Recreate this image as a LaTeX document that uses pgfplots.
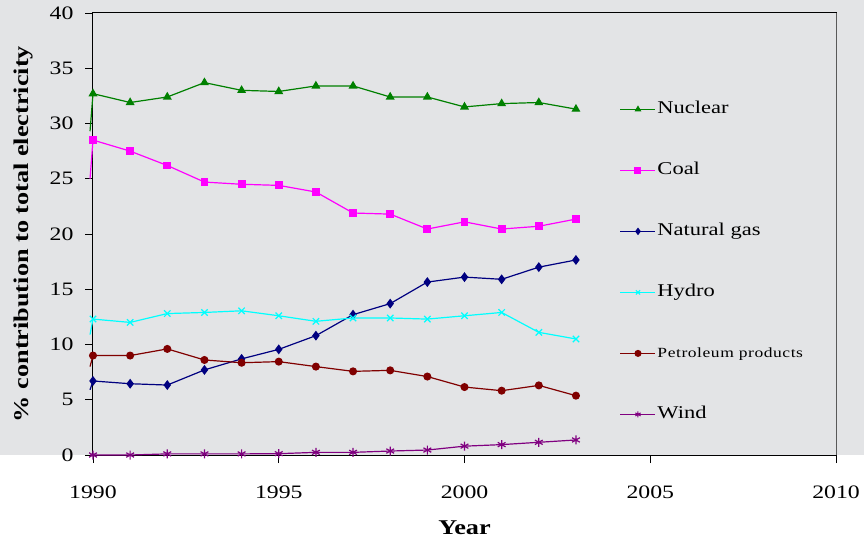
\documentclass[border=0pt]{standalone}
\usepackage{fontspec}
\setmainfont[FakeStretch=1.25]{Liberation Serif}
\usepackage{pgfplots}
\pgfplotsset{compat=1.18}
\usetikzlibrary{backgrounds,calc}

\definecolor{bg}{RGB}{227,228,230}
\definecolor{nuc}{RGB}{0,128,0}
\definecolor{coal}{RGB}{255,0,255}
\definecolor{gas}{RGB}{0,0,128}
\definecolor{hydro}{RGB}{0,255,255}
\definecolor{petro}{RGB}{128,0,0}
\definecolor{wind}{RGB}{128,0,128}

\begin{document}
\begin{tikzpicture}
\begin{axis}[%
name=ax,
width=743pt,
height=442pt,
scale only axis,
clip=false,
xmin=1990, xmax=2010,
ymin=0, ymax=40,
xtick={1990,1995,...,2010},
ytick={0,5,...,40},
tick pos=left,
tick align=outside,
major tick length=8pt,
tick style={black, line width=0.8pt},
axis line style={black, line width=1pt},
/pgf/number format/1000 sep={},
/pgf/number format/assume math mode=true,
ticklabel style={font=\fontsize{19}{22}\selectfont},
xticklabel style={yshift=-19pt},
yticklabel style={xshift=-8pt},
xlabel={Year},
ylabel={\% contribution to total electricity},
label style={font=\bfseries\fontsize{21}{24}\selectfont},
xlabel style={at={(rel axis cs:0.5,-0.165)}, anchor=center},
ylabel style={at={(rel axis cs:-0.0929,0.5)}, anchor=center},
every axis plot/.append style={line width=1.2pt, mark indices={2,...,15}},
legend style={draw=none, fill=none, at={(0.709,0.805)}, anchor=north west,
  inner sep=0pt, row sep=41pt,
  nodes={inner sep=1.5pt, text height=13pt, text depth=4pt, font=\fontsize{18}{20}\selectfont}},
legend cell align=left,
legend image code/.code={\draw[mark indices={2}] plot coordinates {(0pt,0pt) (17.5pt,0pt) (35pt,0pt)};},
every legend image post/.style={mark size=3pt, line width=1pt},
]
\addplot[nuc, mark=triangle*, mark size=4pt] coordinates {
(1989.92,29.3) (1990,32.7) (1991,31.9) (1992,32.4) (1993,33.7) (1994,33.0) (1995,32.9)
(1996,33.4) (1997,33.4) (1998,32.4) (1999,32.4) (2000,31.5) (2001,31.8) (2002,31.9) (2003,31.3)};
\addlegendentry{Nuclear}
\addplot[coal, mark=square*, mark size=3.3pt] coordinates {
(1989.92,25.0) (1990,28.5) (1991,27.5) (1992,26.2) (1993,24.7) (1994,24.5) (1995,24.4)
(1996,23.8) (1997,21.9) (1998,21.8) (1999,20.45) (2000,21.1) (2001,20.45) (2002,20.7) (2003,21.35)};
\addlegendentry{Coal}
\addplot[gas, mark=diamond*, mark size=4pt] coordinates {
(1989.92,5.9) (1990,6.7) (1991,6.45) (1992,6.33) (1993,7.7) (1994,8.7) (1995,9.56)
(1996,10.8) (1997,12.7) (1998,13.7) (1999,15.65) (2000,16.1) (2001,15.9) (2002,17.0) (2003,17.65)};
\addlegendentry{Natural gas}
\addplot[hydro, mark=x, mark size=4.5pt] coordinates {
(1989.92,10.9) (1990,12.3) (1991,12.0) (1992,12.8) (1993,12.9) (1994,13.05) (1995,12.6)
(1996,12.1) (1997,12.4) (1998,12.4) (1999,12.3) (2000,12.6) (2001,12.9) (2002,11.1) (2003,10.5)};
\addlegendentry{Hydro}
\addplot[petro, mark=*, mark size=3.4pt] coordinates {
(1989.92,8.0) (1990,9.0) (1991,9.0) (1992,9.6) (1993,8.6) (1994,8.35) (1995,8.45)
(1996,8.0) (1997,7.57) (1998,7.66) (1999,7.1) (2000,6.15) (2001,5.82) (2002,6.3) (2003,5.37)};
\addlegendentry{\fontsize{14}{16}\selectfont\addfontfeatures{LetterSpace=4}Petroleum products}
\addplot[wind, mark=asterisk, mark size=4.5pt] coordinates {
(1989.92,0.0) (1990,0.0) (1991,0.0) (1992,0.1) (1993,0.1) (1994,0.1) (1995,0.12)
(1996,0.24) (1997,0.24) (1998,0.36) (1999,0.45) (2000,0.8) (2001,0.94) (2002,1.15) (2003,1.36)};
\addlegendentry{Wind}
\draw[gray!70!black, line width=1pt] (rel axis cs:1,0) -- (rel axis cs:1,1);
\end{axis}
\begin{scope}[on background layer]
\fill[bg] ($(ax.south west)+(-93pt,0)$) rectangle ($(ax.north east)+(28pt,13pt)$);
\end{scope}
\pgfresetboundingbox
\path[use as bounding box] ($(ax.south west)+(-93pt,-86pt)$) rectangle ($(ax.north east)+(28pt,13pt)$);
\end{tikzpicture}
\end{document}
